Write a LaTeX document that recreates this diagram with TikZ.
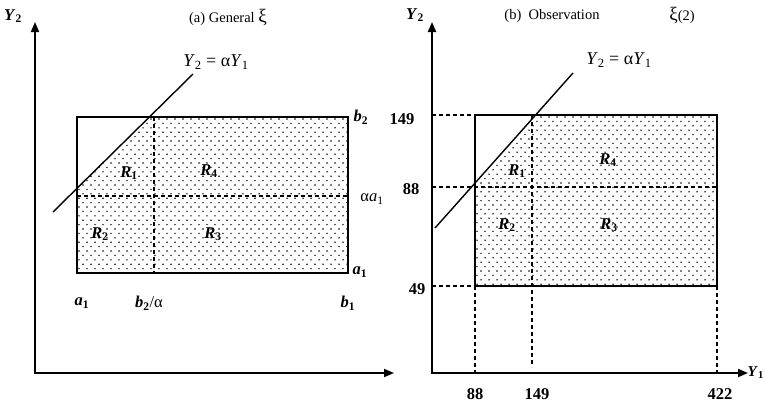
\documentclass[tikz,border=0pt]{standalone}
\usepackage{fontspec}
\setmainfont{Liberation Serif}
\usetikzlibrary{arrows.meta}
\newcommand{\bi}[2]{\textbf{\textit{#1}}\textsubscript{\textbf{#2}}}
\newcommand{\bigxi}{{\fontsize{19}{20}\selectfont ξ}}
% dotted fill: #1=x0, #2=y0, #3=columns, #4=rows
\newcommand{\dotgrid}[4]{%
  \foreach \j in {0,...,#4} {%
    \pgfmathsetmacro\yy{#2+2+\j*4.4}%
    \pgfmathsetmacro\off{mod(\j,2)*4}%
    \foreach \i in {0,...,#3} {%
      \fill[dotc] ({#1+2+\off+\i*8},\yy) circle (0.8pt);
    }%
  }}
\begin{document}
\begin{tikzpicture}[x=1pt,y=-1pt,
  axis/.style={line width=1.8pt,{Triangle[length=10pt,width=8pt]}-{Triangle[length=10pt,width=8pt]}},
  box/.style={line width=1.8pt},
  guide/.style={line width=1.3pt,dash pattern=on 4pt off 3pt},
  ray/.style={line width=1.4pt},
  dotc/.style={fill=black},
  lab/.style={font=\fontsize{16.5}{18}\selectfont,inner sep=0pt},
  eqn/.style={font=\fontsize{18}{20}\selectfont,inner sep=0pt},
  num/.style={font=\fontsize{16.5}{18}\selectfont\bfseries,inner sep=0pt},
  ttl/.style={font=\fontsize{14.5}{16}\selectfont,inner sep=0pt}]
\useasboundingbox (0,0) rectangle (765,407);

% ---------- panel (a) ----------
\coordinate (aO) at (35,373);
\coordinate (aYt) at (35,22);
\coordinate (aXt) at (394,373);
\coordinate (aTL) at (77,117);
\coordinate (aTR) at (348,117);
\coordinate (aBR) at (348,273);
\coordinate (aBL) at (77,273);
\coordinate (aVt) at (154,117);
\coordinate (aVb) at (154,273);
\coordinate (aHl) at (77,196);
\coordinate (aHr) at (348,196);
\coordinate (aL1) at (53,212);
\coordinate (aL2) at (193,74);
\coordinate (aIt) at (149.3,117);
\coordinate (aIl) at (77,188.3);

\begin{scope}
  \clip (aIt) -- (aTR) -- (aBR) -- (aBL) -- (aIl) -- cycle;
  \dotgrid{77}{117}{34}{36}
\end{scope}
\draw[guide] (aVt) -- (aVb);
\draw[guide] (aHl) -- (aHr);
\draw[box] (aTL) rectangle (aBR);
\draw[ray] (aL1) -- (aL2);
\draw[axis] (aYt) -- (aO) -- (aXt);

\node[lab] (aY2) at (13,16) {\bi{Y}{2}};
\node[ttl] (atitle) at (228,18) {(a) General \bigxi};
\node[eqn] (aeq) at (216,62) {\textit{Y}\textsubscript{2} = α\textit{Y}\textsubscript{1}};
\node[lab] (ab2) at (361,117) {\bi{b}{2}};
\node[lab] (aaa1) at (372,199) {α\textit{a}\textsubscript{1}};
\node[lab] (aa1r) at (360,272) {\bi{a}{1}};
\node[lab] (aa1b) at (82,303) {\bi{a}{1}};
\node[lab] (ab2a) at (149,303) {\bi{b}{2}/α};
\node[lab] (ab1) at (348,303) {\bi{b}{1}};
\node[lab] (aR1) at (129,173) {\bi{R}{1}};
\node[lab] (aR4) at (209,171) {\bi{R}{4}};
\node[lab] (aR2) at (100,234) {\bi{R}{2}};
\node[lab] (aR3) at (213,234) {\bi{R}{3}};

% ---------- panel (b) ----------
\coordinate (bO) at (432,373);
\coordinate (bYt) at (432,22);
\coordinate (bXt) at (748,373);
\coordinate (bTL) at (475,115);
\coordinate (bTR) at (717,115);
\coordinate (bBR) at (717,286);
\coordinate (bBL) at (475,286);
\coordinate (bA149) at (432,115);
\coordinate (bA88) at (432,187);
\coordinate (bR88) at (717,187);
\coordinate (bA49) at (432,286);
\coordinate (bX88) at (475,373);
\coordinate (bVt) at (532,115);
\coordinate (bVb) at (532,367);
\coordinate (bX422) at (717,373);
\coordinate (bL1) at (435,228);
\coordinate (bL2) at (573,73);
\coordinate (bIt) at (535.6,115);
\coordinate (bIl) at (475,183.1);

\begin{scope}
  \clip (bIt) -- (bTR) -- (bBR) -- (bBL) -- (bIl) -- cycle;
  \dotgrid{475}{115}{31}{39}
\end{scope}
\draw[guide] (bA149) -- (bTL);
\draw[guide] (bA88) -- (bR88);
\draw[guide] (bA49) -- (bBL);
\draw[guide] (bBL) -- (bX88);
\draw[guide] (bVt) -- (bVb);
\draw[guide] (bBR) -- (bX422);
\draw[box] (bTL) rectangle (bBR);
\draw[ray] (bL1) -- (bL2);
\draw[axis] (bYt) -- (bO) -- (bXt);

\node[lab] (bY2) at (415,15) {\bi{Y}{2}};
\node[ttl] (btitle) at (552,16) {(b)\ \ Observation};
\node[ttl] (bxi) at (682,16) {\bigxi(2)};
\node[eqn] (beq) at (619,60) {\textit{Y}\textsubscript{2} = α\textit{Y}\textsubscript{1}};
\node[lab,anchor=east,font=\fontsize{15}{16}\selectfont] (bY1) at (764,373) {\bi{Y}{1}};
\node[num] (bl149) at (402,119) {149};
\node[num] (bl88) at (411,189) {88};
\node[num] (bl49) at (417,289) {49};
\node[num] (bb88) at (475,394) {88};
\node[num] (bb149) at (537,394) {149};
\node[num] (bb422) at (720,394) {422};
\node[lab] (bR1) at (517,171) {\bi{R}{1}};
\node[lab] (bR4) at (608,160) {\bi{R}{4}};
\node[lab] (bR2) at (507,225) {\bi{R}{2}};
\node[lab] (bR3) at (609,225) {\bi{R}{3}};
\end{tikzpicture}
\end{document}
